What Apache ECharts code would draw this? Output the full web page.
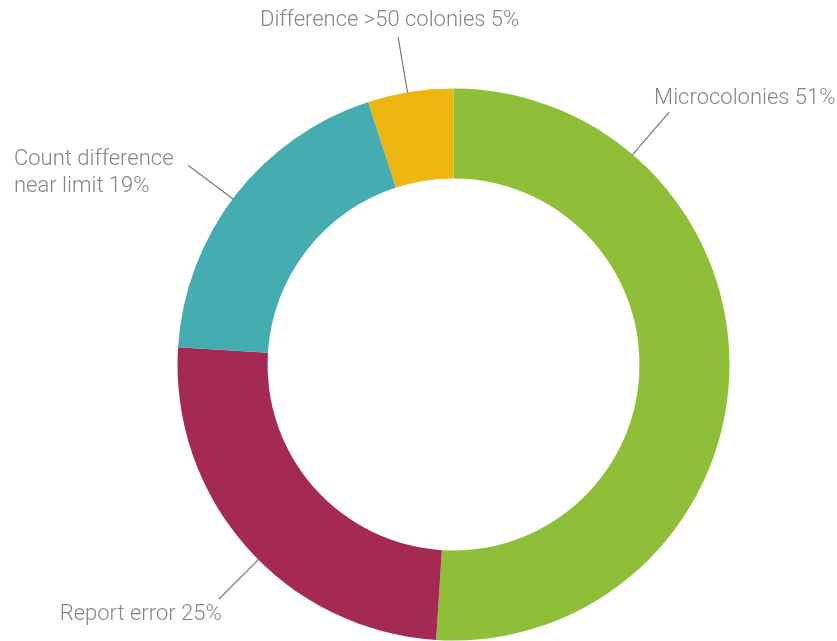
<!DOCTYPE html>
<html>
<head>
<meta charset="utf-8">
<style>
  html, body { margin: 0; padding: 0; background: #ffffff; }
  #chart { width: 837px; height: 641px; }
</style>
<script src="https://cdn.jsdelivr.net/npm/echarts@6/dist/echarts.min.js"></script>
</head>
<body>
<div id="chart"></div>
<script>
// Categories and their shares (percent)
const categories = ['Microcolonies', 'Report error', 'Count difference\nnear limit', 'Difference >50 colonies'];
const shares = [51, 25, 19, 5];
const sliceColors = ['#8fbe38', '#a42a55', '#45acb2', '#ecb50f'];

// Ring geometry (pixels)
const centerX = 453.5, centerY = 364.5;
const innerR = 186, outerR = 276;
const lineStartR = 266, lineEndR = 332;

// Leader-line direction (degrees clockwise from 12 o'clock) and
// label placement relative to the outer end of each leader line
const labelPlacement = [
  { angle: 40.5,  align: 'left',   vAlign: 'bottom', dx: -15,  dy: 0 },
  { angle: 225,   align: 'right',  vAlign: 'top',    dx: 3,    dy: 1.5 },
  { angle: 306.9, align: 'left',   vAlign: 'middle', dx: -174, dy: 8 },
  { angle: 350.4, align: 'center', vAlign: 'bottom', dx: -8.5, dy: -3 }
];

const chart = echarts.init(document.getElementById('chart'), null, { renderer: 'canvas' });

chart.setOption({
  backgroundColor: '#ffffff',
  animation: false,
  series: [{
    type: 'pie',
    center: [centerX, centerY],
    radius: [innerR, outerR],
    startAngle: 90,
    clockwise: true,
    avoidLabelOverlap: false,
    data: categories.map((name, i) => ({
      name: name,
      value: shares[i],
      itemStyle: { color: sliceColors[i] }
    })),
    itemStyle: { borderWidth: 0 },
    emphasis: { disabled: true },
    label: {
      show: true,
      position: 'outside',
      formatter: '{b} {c}%',
      color: '#858585',
      fontFamily: 'Roboto',
      fontWeight: 300,
      fontSize: 22,
      lineHeight: 27
    },
    labelLine: {
      show: true,
      length: 20,
      length2: 0,
      lineStyle: { color: '#7a7a7a', width: 1.2 }
    },
    labelLayout: function (params) {
      const p = labelPlacement[params.dataIndex];
      const a = p.angle * Math.PI / 180;
      const s = Math.sin(a), c = Math.cos(a);
      const start = [centerX + lineStartR * s, centerY - lineStartR * c];
      const end = [centerX + lineEndR * s, centerY - lineEndR * c];
      return {
        x: end[0] + p.dx,
        y: end[1] + p.dy,
        align: p.align,
        verticalAlign: p.vAlign,
        labelLinePoints: [start, end, end]
      };
    }
  }]
});
</script>
</body>
</html>
